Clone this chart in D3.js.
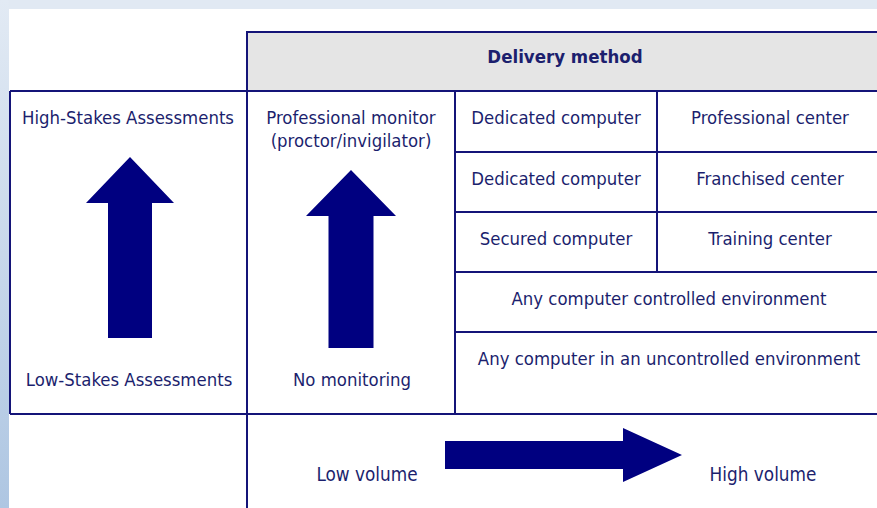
<!DOCTYPE html>
<html>
<head>
<meta charset="utf-8">
<script src="https://cdn.jsdelivr.net/npm/d3@7/dist/d3.min.js"></script>
<style>
  html, body { margin: 0; padding: 0; background: #ffffff; }
  svg { display: block; }
  text { font-family: "DejaVu Sans Condensed", "DejaVu Sans", sans-serif; fill: #1c1f6e; }
</style>
</head>
<body>
<script>
// ---- Data (text content of the diagram) ----
const headerTitle = "Delivery method";
const stakesLabels = ["High-Stakes Assessments", "Low-Stakes Assessments"];
const monitorLabels = ["Professional monitor", "(proctor/invigilator)", "No monitoring"];
const deliveryLabels = ["Dedicated computer", "Dedicated computer", "Secured computer"];
const locationLabels = ["Professional center", "Franchised center", "Training center"];
const environmentLabels = ["Any computer controlled environment", "Any computer in an uncontrolled environment"];
const volumeLabels = ["Low volume", "High volume"];

// ---- Layout ----
const W = 877, H = 508;
const navy = "#000080";
const lineCol = "#141478";

// column boundaries (index -> pixel)
const colEdges = [10, 247, 455, 657, 900];
const x = d3.scaleOrdinal().domain([0, 1, 2, 3, 4]).range(colEdges);
// row boundaries in the grid
const rowEdges = [32, 91, 152, 212, 272, 332, 414, 508];
const y = d3.scaleOrdinal().domain(d3.range(rowEdges.length)).range(rowEdges);

const svg = d3.select("body").append("svg").attr("width", W).attr("height", H);

// background frame
const defs = svg.append("defs");
const grad = defs.append("linearGradient").attr("id", "leftGrad").attr("x1", 0).attr("y1", 0).attr("x2", 0).attr("y2", 1);
grad.append("stop").attr("offset", "0%").attr("stop-color", "#e2eaf4");
grad.append("stop").attr("offset", "100%").attr("stop-color", "#aec6e2");
svg.append("rect").attr("x", 0).attr("y", 0).attr("width", W).attr("height", H).attr("fill", "#ffffff");
svg.append("rect").attr("x", 0).attr("y", 0).attr("width", W).attr("height", 9).attr("fill", "#e1e9f3");
svg.append("rect").attr("x", 0).attr("y", 0).attr("width", 9).attr("height", H).attr("fill", "url(#leftGrad)");

// header cell
svg.append("rect")
  .attr("x", x(1)).attr("y", y(0))
  .attr("width", x(4) - x(1)).attr("height", y(1) - y(0))
  .attr("fill", "#e5e5e5").attr("stroke", lineCol).attr("stroke-width", 2);
svg.append("text")
  .attr("x", 565).attr("y", y(0) + 31)
  .attr("text-anchor", "middle").attr("font-size", 18.5).attr("font-weight", "bold")
  .attr("fill", "#131a6e")
  .text(headerTitle);

// grid lines
const lines = [
  [x(0), y(1), x(4), y(1)],
  [x(0), y(6), x(4), y(6)],
  [x(0), y(1), x(0), y(6)],
  [x(1), y(0), x(1), y(7)],
  [x(2), y(1), x(2), y(6)],
  [x(3), y(1), x(3), y(4)],
  [x(2), y(2), x(4), y(2)],
  [x(2), y(3), x(4), y(3)],
  [x(2), y(4), x(4), y(4)],
  [x(2), y(5), x(4), y(5)]
];
svg.append("g").selectAll("line").data(lines).join("line")
  .attr("x1", d => d[0]).attr("y1", d => d[1])
  .attr("x2", d => d[2]).attr("y2", d => d[3])
  .attr("stroke", lineCol).attr("stroke-width", 2);

const fs = 18.4;
function label(txt, cx, by, size) {
  svg.append("text").attr("x", cx).attr("y", by)
    .attr("text-anchor", "middle").attr("font-size", size || fs).text(txt);
}

// stakes column
label(stakesLabels[0], 128, y(1) + 33);
label(stakesLabels[1], 129, y(6) - 28);

// monitor column
label(monitorLabels[0], 351, y(1) + 33);
label(monitorLabels[1], 351, y(1) + 56);
label(monitorLabels[2], 352, y(6) - 28);

// delivery / location grid
deliveryLabels.forEach((t, i) => label(t, 556, y(i + 1) + 33));
locationLabels.forEach((t, i) => label(t, 770, y(i + 1) + 33));
environmentLabels.forEach((t, i) => label(t, 669, y(i + 4) + 33));

// volume labels
label(volumeLabels[0], 367, y(6) + 67, 18.8);
label(volumeLabels[1], 763, y(6) + 67, 18.8);

// arrows
function upArrow(cx, tip, headBase, bottom, headHalf, shaftHalf) {
  const p = d3.path();
  p.moveTo(cx, tip);
  p.lineTo(cx + headHalf, headBase);
  p.lineTo(cx + shaftHalf, headBase);
  p.lineTo(cx + shaftHalf, bottom);
  p.lineTo(cx - shaftHalf, bottom);
  p.lineTo(cx - shaftHalf, headBase);
  p.lineTo(cx - headHalf, headBase);
  p.closePath();
  svg.append("path").attr("d", p.toString()).attr("fill", navy);
}
function rightArrow(cy, left, headBase, tip, headHalf, shaftHalf) {
  const p = d3.path();
  p.moveTo(tip, cy);
  p.lineTo(headBase, cy - headHalf);
  p.lineTo(headBase, cy - shaftHalf);
  p.lineTo(left, cy - shaftHalf);
  p.lineTo(left, cy + shaftHalf);
  p.lineTo(headBase, cy + shaftHalf);
  p.lineTo(headBase, cy + headHalf);
  p.closePath();
  svg.append("path").attr("d", p.toString()).attr("fill", navy);
}
upArrow(130, 157, 203, 338, 44, 22);
upArrow(351, 170, 216, 348, 45, 22.5);
rightArrow(455, 445, 623, 682, 27, 14);
</script>
</body>
</html>
